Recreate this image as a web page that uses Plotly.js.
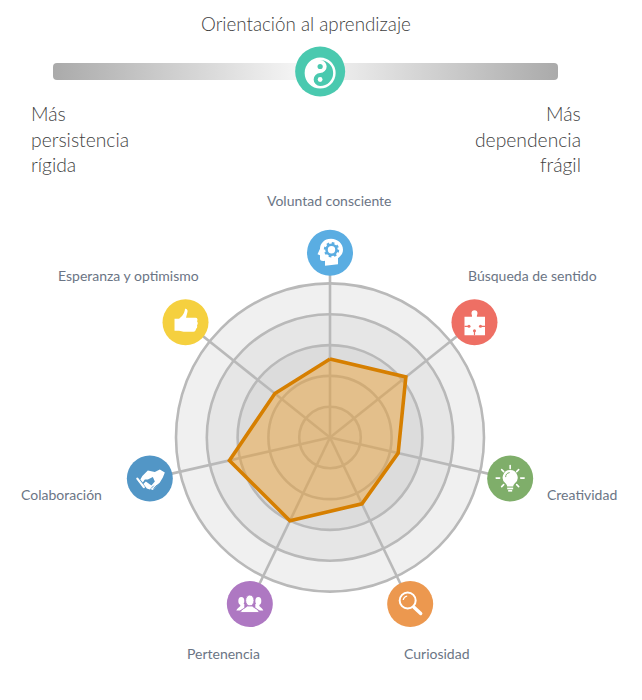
<!DOCTYPE html>
<html><head><meta charset="utf-8">
<script src="https://cdn.plot.ly/plotly-3.0.1.min.js"></script>
<style>html,body{margin:0;padding:0;background:#fff}#c{width:642px;height:700px}</style>
</head><body><div id="c"></div>
<script>
const W=642,H=700;
const categories=["Voluntad consciente","Búsqueda de sentido","Creatividad","Curiosidad","Pertenencia","Colaboración","Esperanza y optimismo"];
const values=[2.55,3.15,2.27,2.39,3.0,3.35,2.29];
const iconColors=["#5AADE2","#EE6F64","#7FAE6A","#EC984F","#AE78C2","#5296C6","#F5D03F"];
const ringLevels=[5,4,3,2,1];
const ringColors=["#f0f0f0","#e6e6e6","#dcdcdc","#d9d9d9","#d6d6d6"];
const sliderValue=52.9;
const titleText="Orientación al aprendizaje";
const leftLines=["Más","persistencia","rígida"];
const rightLines=["Más","dependencia","frágil"];
const labelCenterX=[330,532,582,437,223,61,128];
const labelCenterY=[200.5,275.5,494.5,653.5,653.5,494.5,275.5];
const sideLineY=[114,139,164];

const cx=330,cy=437.5,unit=30.8,iconRing=6;
const R=iconRing*unit;
const px=x=>x/W, py=y=>1-y/H;
const FONT="Lato, 'Open Sans', sans-serif";

const svg=(inner,s=46)=>"data:image/svg+xml;charset=utf-8,"+encodeURIComponent(`<svg xmlns="http://www.w3.org/2000/svg" width="${s}" height="${s}" viewBox="0 0 ${s} ${s}">${inner}</svg>`);
const rays=[[23,10,23,13],[14.5,14,16.5,16],[31.5,14,29.5,16],[9,22.5,12.5,22.5],[33.5,22.5,37,22.5],[14.5,31,16.5,29],[31.5,31,29.5,29]].map(a=>`<line x1="${a[0]}" y1="${a[1]}" x2="${a[2]}" y2="${a[3]}" stroke="#fff" stroke-width="1.6" stroke-linecap="round"/>`).join("");
const glyphs=[
 `<path fill="#fff" d="M24 9C17 9 13 14 13 19L10.5 24.5L13 25.5L13 29C13 31 15 31.5 18 31L18 36L31 34.5L31 28.5C34 26 36 23.5 36 20C36 14 31 9 24 9Z"/><circle cx="24.5" cy="20" r="5" fill="none" stroke="#5AADE2" stroke-width="2.6"/><circle cx="24.5" cy="20" r="6.6" fill="none" stroke="#5AADE2" stroke-width="2.2" stroke-dasharray="2.6 2.6"/>`,
 `<path fill="#fff" d="M13 17.5H20.5C21 16.5 20 15.5 20 14A3 3 0 0 1 26 14C26 15.5 25 16.5 25.5 17.5H33.5V36H13Z"/><path stroke="#EE6F64" stroke-width="1.2" fill="none" d="M13 27H17M29.5 27H33.5M23 32V36"/><g fill="#EE6F64"><circle cx="17.5" cy="27" r="1.5"/><circle cx="29" cy="27" r="1.5"/><circle cx="23" cy="31.5" r="1.5"/></g>`,
 `${rays}<path fill="#fff" d="M23 14.5A7.5 7.5 0 0 0 18.5 28C19.5 29 20 30 20 31H26C26 30 26.5 29 27.5 28A7.5 7.5 0 0 0 23 14.5Z"/><path d="M18.5 21.5A4.5 4.5 0 0 1 22.5 17" stroke="#7FAE6A" stroke-width="1" fill="none"/><rect x="20" y="32" width="6" height="1.7" fill="#fff"/><rect x="21" y="34.3" width="4" height="1.7" fill="#fff"/>`,
 `<circle cx="20.5" cy="19.5" r="8" fill="none" stroke="#fff" stroke-width="2"/><path d="M16 19A5 5 0 0 1 20 15" stroke="#fff" stroke-width="1.2" fill="none"/><line x1="26.5" y1="26" x2="33.5" y2="32.5" stroke="#fff" stroke-width="3.4" stroke-linecap="round"/>`,
 `<g fill="#fff"><ellipse cx="14.5" cy="20" rx="3" ry="4"/><path d="M9.5 29.5C10 27.5 12.5 26.5 13.5 25V23H17.5V27L13 29.5Z"/><ellipse cx="31.5" cy="20" rx="3" ry="4"/><path d="M36.5 29.5C36 27.5 33.5 26.5 32.5 25V23H28.5V27L33 29.5Z"/></g><g fill="#fff" stroke="#AE78C2" stroke-width="0.9"><ellipse cx="23" cy="19.5" rx="4.2" ry="5.5"/><path d="M13.5 31.5C14 28 19 27 20.5 25H25.5C27 27 32 28 32.5 31.5Z"/></g>`,
 `<path fill="#fff" d="M15.5 20.5L21 15L28 16.5L33 14L38 17L36 22L33 27L26 34.5L22 33L28 26L26 21.5L21 24L18 24L16 27L13.5 24Z"/><path fill="#fff" d="M16.5 28.5L19 26L26 31L23 34L20 33Z"/><path stroke="#fff" stroke-width="2.2" stroke-linecap="round" d="M10.5 23L17 31.5"/><path stroke="#5296C6" stroke-width="0.9" d="M24 33L27 30M26.5 33L30 29.5M29 31L32 28"/>`,
 `<path fill="#fff" d="M22.5 9.5C24 9 25.5 10.5 25 12.5L23.5 18.5H33C35 18.5 35.5 20.5 34.5 22C35.5 23 35.5 25 34.5 26C35 27.5 34.5 29 33.5 29.5C33.5 31 32.5 32.5 31 32.5H21C19.5 32.5 18.5 31.5 16.5 31.5H12V19.5H16.5C19 17.5 22 15 22.5 9.5Z"/>`
];
const yinYang=svg(`<circle cx="25" cy="25" r="15.5" fill="#fff"/><path fill="#4AC9AF" d="M25 12A13 13 0 0 1 25 38A6.5 6.5 0 0 1 25 25A6.5 6.5 0 0 0 25 12Z"/><circle cx="25" cy="18.5" r="2.6" fill="#4AC9AF"/><circle cx="25" cy="31.5" r="2.4" fill="#fff"/>`,50);
const barSvg="data:image/svg+xml;charset=utf-8,"+encodeURIComponent(`<svg xmlns="http://www.w3.org/2000/svg" width="505" height="17" viewBox="0 0 505 17"><defs><linearGradient id="g" x1="0" x2="1" y1="0" y2="0"><stop offset="0" stop-color="#aaaaaa"/><stop offset="0.5" stop-color="#f7f7f7"/><stop offset="1" stop-color="#aaaaaa"/></linearGradient></defs><rect width="505" height="17" rx="4" fill="url(#g)"/></svg>`);

const traces=[];
ringLevels.forEach((lv,i)=>traces.push({type:"barpolar",theta:[categories[0]],r:[lv],width:[categories.length],base:0,
  marker:{color:ringColors[i],line:{color:"#b9b9b9",width:2.6}},hoverinfo:"skip",showlegend:false}));
categories.forEach(c=>traces.push({type:"scatterpolar",mode:"lines",theta:[c,c],r:[0,iconRing],line:{color:"#b9b9b9",width:2.6},hoverinfo:"skip",showlegend:false,cliponaxis:false}));
traces.push({type:"scatterpolar",mode:"lines",theta:categories.concat(categories[0]),r:values.concat(values[0]),fill:"toself",
  fillcolor:"rgba(240,155,30,0.42)",line:{color:"#D67F00",width:3.6,shape:"linear"},showlegend:false,name:titleText});
traces.push({type:"scatterpolar",mode:"markers",theta:categories,r:categories.map(()=>iconRing),marker:{size:46,color:iconColors,line:{width:0}},cliponaxis:false,showlegend:false,hoverinfo:"theta"});
traces.push({type:"scatter",mode:"markers",x:[sliderValue],y:[0.5],xaxis:"x",yaxis:"y",cliponaxis:false,marker:{size:50,color:"#4AC9AF"},showlegend:false,hoverinfo:"skip"});

const images=[{source:barSvg,xref:"paper",yref:"paper",x:px(53),y:py(63),sizex:505/W,sizey:17/H,sizing:"stretch",xanchor:"left",yanchor:"top",layer:"below"}];
images.push({source:yinYang,xref:"paper",yref:"paper",x:px(53+505*sliderValue/100),y:py(73),sizex:50/W,sizey:50/H,xanchor:"center",yanchor:"middle",layer:"above"});
categories.forEach((c,i)=>{const a=2*Math.PI*i/categories.length;
  images.push({source:svg(glyphs[i]),xref:"paper",yref:"paper",x:px(cx+R*Math.sin(a)),y:py(cy-R*Math.cos(a)),sizex:46/W,sizey:46/H,xanchor:"center",yanchor:"middle",layer:"above"});});

const ann=(t,x,y,size,color,anchor,weight)=>({text:t,xref:"paper",yref:"paper",x:px(x),y:py(y),xanchor:anchor,yanchor:"middle",showarrow:false,font:{family:FONT,size,color,weight:weight||400}});
const annotations=[ann(titleText,306,24,18.8,"#3f3f3f","center",300)];
leftLines.forEach((t,i)=>annotations.push(ann(t,29,sideLineY[i],19.3,"#3f3f3f","left",300)));
rightLines.forEach((t,i)=>annotations.push(ann(t,583,sideLineY[i],19.3,"#3f3f3f","right",300)));
categories.forEach((c,i)=>annotations.push(ann(c,labelCenterX[i],labelCenterY[i],14,"#6b7585","center")));

Plotly.newPlot("c",traces,{
  width:W,height:H,margin:{l:0,r:0,t:0,b:0},paper_bgcolor:"rgba(0,0,0,0)",plot_bgcolor:"rgba(0,0,0,0)",showlegend:false,
  xaxis:{domain:[px(53),px(558)],range:[0,100],visible:false,fixedrange:true},
  yaxis:{domain:[py(80),py(63)],range:[0,1],visible:false,fixedrange:true},
  polar:{domain:{x:[px(cx-R),px(cx+R)],y:[py(cy+R),py(cy-R)]},bgcolor:"rgba(0,0,0,0)",barmode:"overlay",
    radialaxis:{range:[0,iconRing],visible:false},
    angularaxis:{type:"category",categoryorder:"array",categoryarray:categories,direction:"clockwise",rotation:90,visible:false}},
  images,annotations
},{displayModeBar:false,staticPlot:true});
</script></body></html>
